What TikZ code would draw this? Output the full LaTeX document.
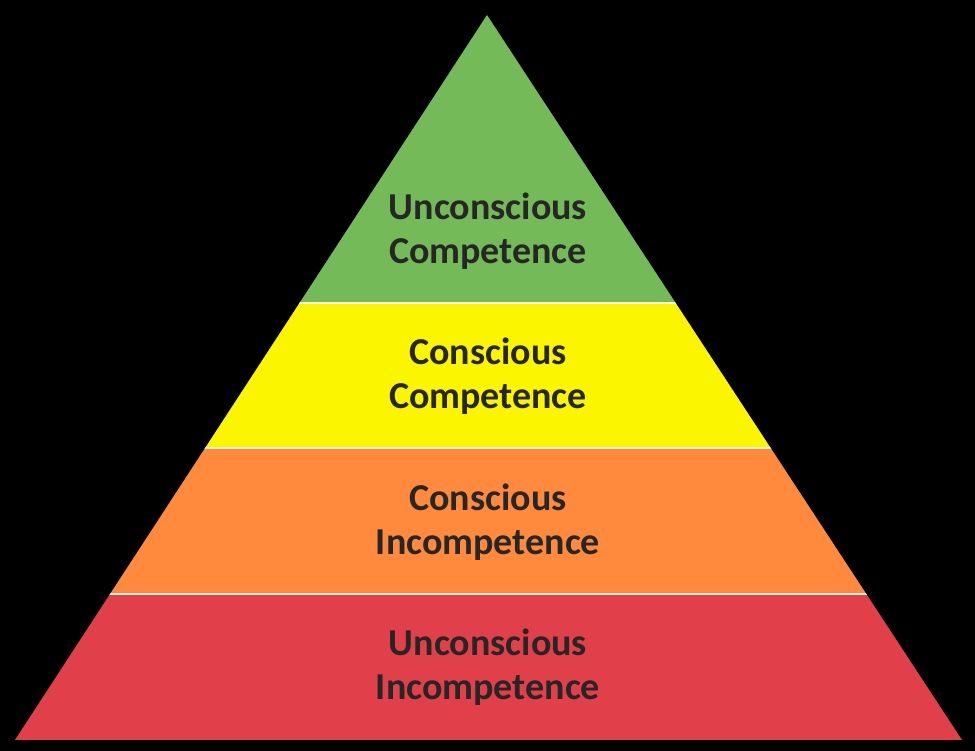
\documentclass[tikz,border=0pt]{standalone}
\usepackage{fontspec}
\setmainfont{Carlito}
\definecolor{topgreen}{HTML}{75BA58}
\definecolor{midyellow}{HTML}{FBF600}
\definecolor{midorange}{HTML}{FF8A3D}
\definecolor{basered}{HTML}{E1404A}
\definecolor{labelgray}{HTML}{262626}
\tikzset{
	band/.style={draw=none},
	seam/.style={draw=white!90!orange, line width=2pt},
	level/.style={text=labelgray, font=\fontsize{38}{44}\selectfont\bfseries, align=center, inner sep=0pt}
}
\begin{document}
\begin{tikzpicture}[x=1pt,y=-1pt]
	\fill[black] (0,0) rectangle (975,751);
	\useasboundingbox (0,0) rectangle (975,751);
	
	\begin{scope}
		\clip (487,15) -- (962,740) -- (15,740) -- cycle;
		\fill[band,topgreen] (0,0) rectangle (975,303);
		\fill[band,midyellow] (0,303) rectangle (975,448);
		\fill[band,midorange] (0,448) rectangle (975,594);
		\fill[band,basered] (0,594) rectangle (975,740);
		
		\draw[seam] (0,303) -- (975,303);
		\draw[seam] (0,448) -- (975,448);
		\draw[seam] (0,594) -- (975,594);
	\end{scope}
	
	\node[level] (uc) at (488,231) {Unconscious\\Competence};
	\node[level] (cc) at (488,376) {Conscious\\Competence};
	\node[level] (ci) at (488,522) {Conscious\\Incompetence};
	\node[level] (ui) at (488,667) {Unconscious\\Incompetence};
\end{tikzpicture}
\end{document}
